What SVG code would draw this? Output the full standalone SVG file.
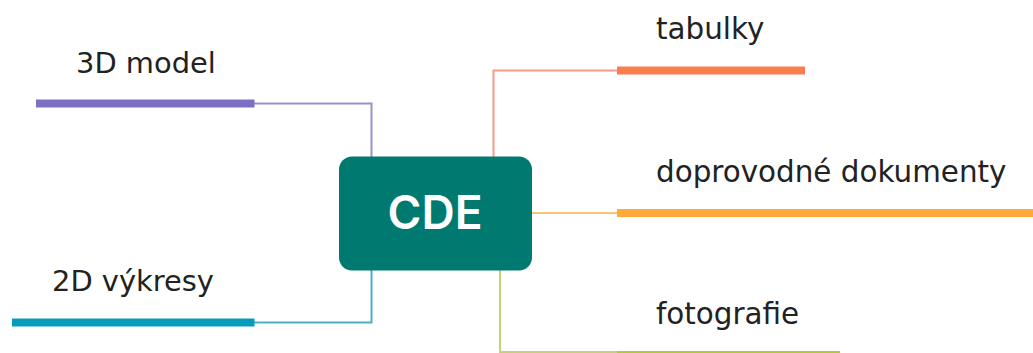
<svg xmlns="http://www.w3.org/2000/svg" width="1033" height="353" viewBox="0 0 1033 353">
<style>
text{font-family:"DejaVu Sans","Noto Sans",sans-serif;font-size:29.4px;fill:#222;}
.m{font-size:28.9px;}
.c{fill:none;stroke-width:2;}
.cde{font-family:"Inter","Liberation Sans",sans-serif;font-weight:600;font-size:46px;fill:#fff;text-anchor:middle;}
</style>
<rect width="1033" height="353" fill="#fff"/>
<g id="connectors">
<path class="c" stroke="#9a90cb" d="M254 103.500H371.500V157"/>
<path class="c" stroke="#4fb0c2" d="M254 322.500H371.500V270"/>
<path class="c" stroke="#f79a88" d="M617 70.500H493.500V157"/>
<path class="c" stroke="#fbc478" d="M532 213H617"/>
<path class="c" stroke="#c9cf78" d="M500 270V352H617"/>
</g>
<g id="cde"><rect x="339" y="156.500" width="193" height="114" rx="13" fill="#007a70"/><text class="cde" x="435" y="229">CDE</text></g>
<g id="model3d"><rect x="36" y="99.500" width="218.500" height="8" fill="#7b70c4"/><text class="m" x="76" y="72.500">3D model</text></g>
<g id="drawings2d"><rect x="12" y="318.500" width="242.500" height="8" fill="#069bbd"/><text class="m" x="52" y="291">2D výkresy</text></g>
<g id="tables"><rect x="617" y="66.500" width="188" height="8" fill="#fa7d50"/><text x="656" y="39">tabulky</text></g>
<g id="documents"><rect x="617" y="209" width="416" height="8" fill="#ffa93a"/><text x="656" y="182">doprovodné dokumenty</text></g>
<g id="photos"><rect x="617" y="351" width="223" height="2" fill="#b5c932"/><text x="656" y="324">fotografie</text></g>
</svg>
